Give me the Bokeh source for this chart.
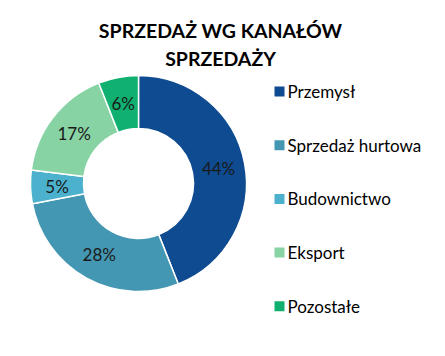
import math
from bokeh.plotting import figure
from bokeh.models import Range1d, ColumnDataSource
from bokeh.core.properties import value
from bokeh.embed import file_html
from bokeh.resources import INLINE

# ---- data ----
categories = ["Przemysł", "Sprzedaż hurtowa", "Budownictwo", "Eksport", "Pozostałe"]
shares = [44, 28, 5, 17, 6]
colors = ["#0E4B90", "#4497B2", "#4BB1CD", "#88D3A4", "#10B170"]
title_lines = ["SPRZEDAŻ WG KANAŁÓW", "SPRZEDAŻY"]

W, H = 429, 340
p = figure(width=W, height=H, output_backend="svg", toolbar_location=None,
           x_range=Range1d(0, W), y_range=Range1d(0, H), min_border=0)
p.axis.visible = False
p.grid.visible = False
p.outline_line_color = None

# donut geometry (layout)
cx, cy = 138, 157
r_out, r_in = 108, 55
r_lab = (r_out + r_in) / 2

total = float(sum(shares))
starts, ends, lx, ly, labels = [], [], [], [], []
cum = 0.0
for s in shares:
    a0 = math.pi / 2 - 2 * math.pi * cum / total
    a1 = math.pi / 2 - 2 * math.pi * (cum + s) / total
    starts.append(a0)
    ends.append(a1)
    mid = (a0 + a1) / 2
    lx.append(cx + r_lab * math.cos(mid))
    ly.append(cy + r_lab * math.sin(mid))
    labels.append(f"{s}%")
    cum += s

src = ColumnDataSource(dict(start=starts, end=ends, color=colors,
                            lx=lx, ly=ly, label=labels))
p.annular_wedge(x=cx, y=cy, inner_radius=r_in, outer_radius=r_out,
                start_angle="start", end_angle="end", direction="clock",
                fill_color="color", line_color="white", line_width=1.5, source=src)
p.text(x="lx", y="ly", text="label", source=src, text_align="center",
       text_baseline="middle", text_font=value("Lato"), text_font_size="17px",
       text_color="#1a1a1a")

# title
p.text(x=[220, 220], y=[310, 282], text=title_lines, text_align="center",
       text_baseline="middle", text_font=value("Lato"), text_font_size="19.5px",
       text_font_style="bold", text_color="#000000")

# legend
leg_y0, leg_dy = 249, 53.7
ly_leg = [leg_y0 - i * leg_dy for i in range(len(categories))]
lsrc = ColumnDataSource(dict(y=ly_leg, name=categories, color=colors))
p.rect(x=279, y="y", width=10, height=10, fill_color="color", line_color=None, source=lsrc)
p.text(x=287, y="y", text="name", source=lsrc, text_align="left",
       text_baseline="middle", text_font=value("Lato"), text_font_size="17px",
       text_color="#000000")

open("out.html", "w").write(file_html(p, INLINE))
